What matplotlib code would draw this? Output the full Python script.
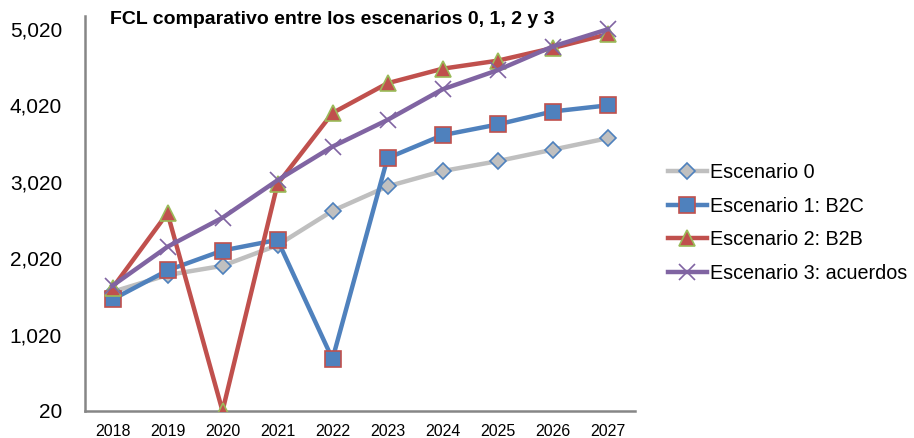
import matplotlib
matplotlib.use("Agg")
import matplotlib.pyplot as plt
from matplotlib.ticker import FuncFormatter

years = [2018, 2019, 2020, 2021, 2022, 2023, 2024, 2025, 2026, 2027]
esc0 = [1580, 1800, 1920, 2190, 2640, 2960, 3160, 3290, 3440, 3590]
esc1 = [1480, 1860, 2120, 2260, 700, 3330, 3630, 3770, 3940, 4020]
esc2 = [1630, 2610, 20, 2990, 3920, 4310, 4500, 4605, 4770, 4950]
esc3 = [1660, 2170, 2550, 3040, 3480, 3830, 4230, 4480, 4790, 5015]
labels = ["Escenario 0", "Escenario 1: B2C", "Escenario 2: B2B", "Escenario 3: acuerdos"]
yticks = [20, 1020, 2020, 3020, 4020, 5020]
title = "FCL comparativo entre los escenarios 0, 1, 2 y 3"

plt.rcParams["font.family"] = ["Liberation Sans", "DejaVu Sans"]

fig = plt.figure(figsize=(9.14, 4.38), dpi=100)
ax = fig.add_axes([85 / 914, 27 / 438, 550 / 914, 395 / 438])

lw = 3.2
ax.plot(years, esc0, color="#BFBFBF", lw=lw, marker="D", ms=8,
        mfc="#C0C0C0", mec="#4F81BD", mew=1.2, label=labels[0], zorder=2)
ax.plot(years, esc1, color="#4F81BD", lw=lw, marker="s", ms=11,
        mfc="#4F81BD", mec="#C0504D", mew=1.2, label=labels[1], zorder=3)
ax.plot(years, esc2, color="#C0504D", lw=lw, marker="^", ms=11,
        mfc="#C0504D", mec="#9BBB59", mew=1.2, label=labels[2], zorder=4)
ax.plot(years, esc3, color="#8064A2", lw=lw, marker="x", ms=11,
        mec="#8064A2", mew=1.2, label=labels[3], zorder=5)

ax.set_xlim(2017.5, 2027.5)
ax.set_ylim(20, 5190)
ax.set_xticks(years)
ax.set_yticks(yticks)
ax.yaxis.set_major_formatter(FuncFormatter(lambda v, p: f"{int(v):,}"))
ax.tick_params(axis="x", length=0, labelsize=11.5, pad=9)
ax.tick_params(axis="y", length=0, labelsize=15, pad=16.5)

for s in ("top", "right"):
    ax.spines[s].set_visible(False)
for s in ("left", "bottom"):
    ax.spines[s].set_color("#868686")
    ax.spines[s].set_linewidth(1.8)

fig.text(110 / 914, 1 - 20 / 438, title, fontsize=14, fontweight="bold",
         family=["Liberation Sans Narrow", "Liberation Sans", "DejaVu Sans"],
         ha="left", va="center")

fig.legend(loc="center left", bbox_to_anchor=(650 / 914, 1 - 223 / 438),
           frameon=False, fontsize=14.2, handlelength=2.0, handletextpad=0.15,
           labelspacing=0.75)

fig.savefig("out.png", dpi=100)
